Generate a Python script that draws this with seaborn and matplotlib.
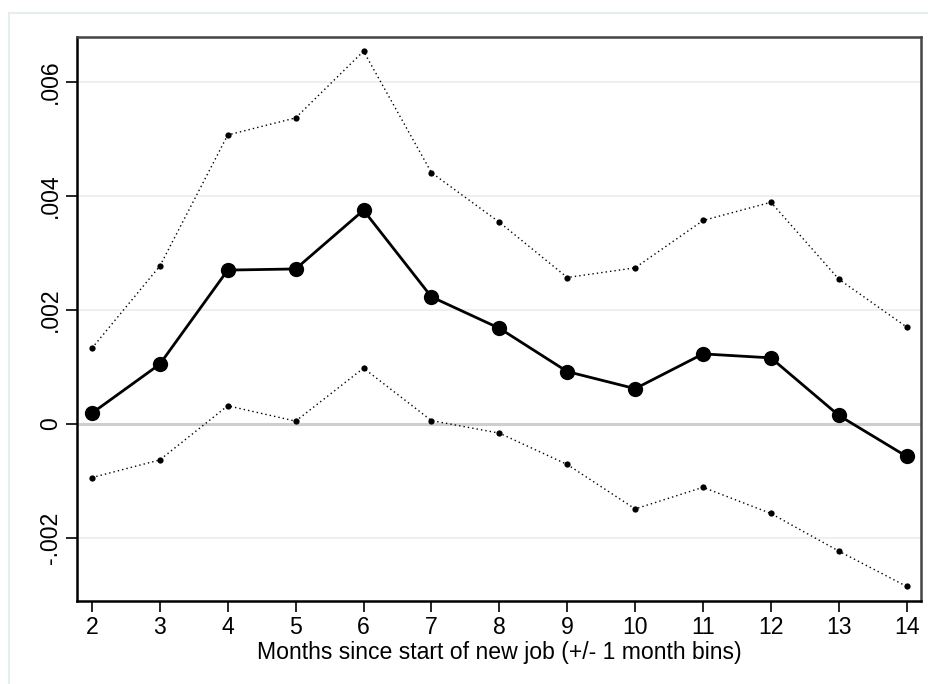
import matplotlib
matplotlib.use("Agg")
import matplotlib.pyplot as plt
from matplotlib.patches import Rectangle
import seaborn as sns
import pandas as pd

months = [2, 3, 4, 5, 6, 7, 8, 9, 10, 11, 12, 13, 14]
estimate = [0.00019, 0.00105, 0.00270, 0.00272, 0.00375, 0.00223, 0.00168,
            0.00092, 0.00062, 0.00123, 0.00116, 0.00015, -0.00057]
upper_ci = [0.00133, 0.00277, 0.00507, 0.00537, 0.00654, 0.00441, 0.00354,
            0.00257, 0.00274, 0.00357, 0.00389, 0.00254, 0.00170]
lower_ci = [-0.00094, -0.00063, 0.00032, 0.00005, 0.00098, 0.00006, -0.00016,
            -0.00071, -0.00149, -0.00111, -0.00157, -0.00223, -0.00285]
y_ticks = [-0.002, 0, 0.002, 0.004, 0.006]
y_tick_labels = ["-.002", "0", ".002", ".004", ".006"]
x_label = "Months since start of new job (+/- 1 month bins)"

df = pd.DataFrame({"month": months, "estimate": estimate,
                   "upper": upper_ci, "lower": lower_ci})

sns.set_theme(style="white")
plt.rcParams["font.family"] = ["Liberation Sans", "DejaVu Sans"]

W, H = 929, 684
fig = plt.figure(figsize=(W / 100, H / 100), dpi=100)
fig.patch.set_facecolor("white")

# light outer graph-region border (runs off the right and bottom edges)
fig.add_artist(Rectangle((9 / W, -0.05), 1.1, 1.05 - 13 / H,
                         transform=fig.transFigure, fill=False,
                         edgecolor="#e6edf1", linewidth=1.5))

ax = fig.add_axes([77 / W, 1 - 601 / H, (921 - 77) / W, (601 - 37) / H])

for yv in y_ticks:
    if yv == 0:
        ax.axhline(yv, color="#cfcfcf", lw=2.2, zorder=1)
    else:
        ax.axhline(yv, color="#eaf0f3", lw=1.5, zorder=1)

sns.lineplot(data=df, x="month", y="upper", ax=ax, color="black", lw=1.0,
             linestyle=(0, (1, 2.2)), marker="o", markersize=4.5,
             markeredgewidth=0, zorder=3)
sns.lineplot(data=df, x="month", y="lower", ax=ax, color="black", lw=1.0,
             linestyle=(0, (1, 2.2)), marker="o", markersize=4.5,
             markeredgewidth=0, zorder=3)
sns.lineplot(data=df, x="month", y="estimate", ax=ax, color="black", lw=2.0,
             marker="o", markersize=11, markeredgewidth=0, zorder=4)

ax.set_xlim(1.78, 14.21)
ax.set_ylim(-0.003105, 0.006789)
ax.set_xticks(months)
ax.set_xticklabels([str(m) for m in months])
ax.set_yticks(y_ticks)
ax.set_yticklabels(y_tick_labels, rotation=90, va="center")
ax.set_xlabel(x_label, fontsize=16.6, labelpad=1, color="black")
ax.set_ylabel("")

ax.tick_params(axis="both", which="major", direction="out", length=8,
               width=1.2, color="black", labelsize=16.6, labelcolor="black",
               left=True, bottom=True)
ax.tick_params(axis="x", pad=3)
ax.tick_params(axis="y", pad=3)

for name, sp in ax.spines.items():
    sp.set_visible(True)
    sp.set_linewidth(1.8)
    sp.set_color("black" if name in ("left", "bottom") else "#444444")

fig.savefig("out.png", dpi=100)
